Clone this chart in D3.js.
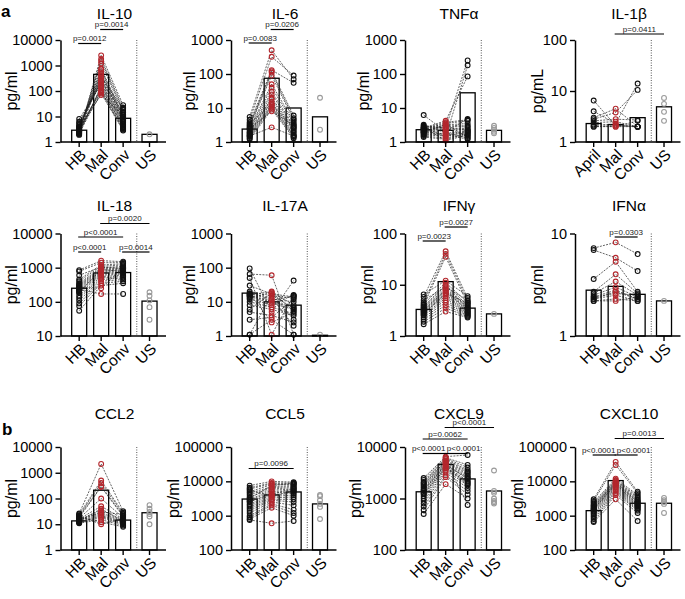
<!DOCTYPE html>
<html><head><meta charset="utf-8">
<script src="https://cdn.jsdelivr.net/npm/d3@7"></script>
<style>body{margin:0;background:#fff} text{font-family:"Liberation Sans",Arial,Helvetica,sans-serif}</style>
</head><body><svg id="c" width="685" height="599"></svg>
<script>
// ---------- categories ----------
const cats = ["HB","Mal","Conv","US"];
const catsIL1b = ["April","Mal","Conv","US"];

// ---------- tick values ----------
const ticks1to10000 = [1,10,100,1000,10000];
const ticks1to1000 = [1,10,100,1000];
const ticks1to100 = [1,10,100];
const ticks1to10 = [1,10];
const ticks10to10000 = [10,100,1000,10000];
const ticks100to100000 = [100,1000,10000,100000];
const ticks100to10000 = [100,1000,10000];

// ---------- IL-10 ----------
const il10_HB = [2.1,2.3,2.5,2.6,2.8,3.0,3.2,3.5,3.8,4.2,4.8,5.5,6.2,8.0,2.0,2.4,2.7,3.1,3.4,2.2,2.9,3.6,4.0,2.5,1.9];
const il10_Mal = [2500,1800,1500,1200,750,700,500,420,380,300,260,220,200,180,160,140,130,110,100,90,80,70,250,350,600];
const il10_Conv = [28,22,18,15,12,10,9,8,7.5,7,6.5,6,5.5,5,4.5,4,3.8,3.5,3.2,3,2.8,11,14,20,9.5];
const il10_US = [2.0];
const il10_bars = [2.9,450,8.5,2.0];
// ---------- IL-6 ----------
const il6_HB = [5.5,4.5,3.8,3.2,3.0,2.8,2.6,2.4,2.2,2.0,1.9,1.8,1.7,1.6,1.5,1.4,1.3,1.2,2.5,3.5,1.5];
const il6_Mal = [500,320,130,120,110,90,50,40,30,25,20,18,15,13,12,11,10,9,8,13,2.7];
const il6_Conv = [70,90,55,6,5,4.5,4,3.5,3,2.8,2.5,2.2,2,1.8,1.6,1.5,1.4,1.3,3.2,2.6,1.5];
const il6_US = [20,2.3];
const il6_bars = [2.4,75,10,5.5];
// ---------- TNFa ----------
const tnf_HB = [6.2,3.0,2.8,2.6,2.5,2.4,2.3,2.2,2.1,2.0,1.9,1.8,1.7,1.6,1.5,1.4,2.7,2.2,1.9,3.2,2.5,2.0];
const tnf_Mal = [2.0,2.6,1.4,4.2,3.8,3.5,3.2,3.0,2.8,2.4,2.2,1.8,1.6,1.5,1.3,1.2,1.1,2.5,3.3,1.9,2.7,1.7];
const tnf_Conv = [4.8,250,180,85,4.5,4.2,3.5,3.0,2.8,2.5,2.3,2.1,2.0,1.9,1.8,1.7,1.6,1.5,1.4,1.3,2.2,1.2];
const tnf_US = [3.0,2.6,2.3,2.0,1.8];
const tnf_bars = [2.3,2.2,28,2.2];
// ---------- IL-1b ----------
const il1b_HB = [6.5,4.0,3.0,2.8,2.6,2.4,2.2,2.1,2.0,2.0];
const il1b_Mal = [2.1,2.3,4.5,3.8,2.8,2.5,2.2,2.0,2.0,2.1];
const il1b_Conv = [2.0,14,2.0,10.5,2.7,2.0,2.0,2.0,2.6,2.0];
const il1b_US = [7.3,5.6,3.9,2.6];
const il1b_bars = [2.3,2.2,3.0,4.9];
// ---------- IL-18 ----------
const il18_HB = [850,780,450,400,350,320,300,280,260,240,220,200,180,150,130,110,90,75,55,270,230,190,600];
const il18_Mal = [1600,1400,1200,1100,1000,950,900,850,800,750,700,650,600,550,500,450,400,350,300,250,170,880,1050];
const il18_Conv = [1500,1400,1300,1200,1100,1000,950,900,850,800,750,700,650,600,550,500,450,400,350,1000,170,780,950];
const il18_US = [190,150,110,70,30];
const il18_bars = [250,700,720,105];
// ---------- IL-17A ----------
const il17_HB = [95,65,50,30,20,18,17,16,15,14,12,10,8,6,5,3,1.1,17,15,13,1.1];
const il17_Mal = [5,60,1.1,17,15,13,12,20,10,9,8,7,6,18,4,3.5,3,2.5,11,19,16];
const il17_Conv = [42,1.1,15,14,13,2,10,8,7,6,16,4.5,4,3,2.5,12,1.1,5,15,5.5,6.5];
const il17_US = [1.1];
const il17_bars = [18,10,8,1.05];
// ---------- IFNg ----------
const ifng_HB = [6.5,5.8,5.0,4.5,4.2,4.0,3.8,3.5,3.3,3.1,3.0,2.9,2.8,2.6,2.5,2.3,2.1,1.9,1.7,3.6,3.2,2.7];
const ifng_Mal = [12,45,9,40,11,35,10,8.5,8,7.5,7,6.5,6,5.5,5,4.5,4,3.5,3,9.5,7.8,6.8];
const ifng_Conv = [6.0,5.5,5.0,4.8,4.5,4.2,4.0,3.8,3.6,3.4,3.2,3.0,2.9,2.8,2.7,2.6,2.5,2.4,2.3,3.5,3.1,4.4];
const ifng_US = [2.7];
const ifng_bars = [3.3,11.5,3.5,2.7];
// ---------- IFNa ----------
const ifna_HB = [7.2,6.9,3.6,2.7,2.6,2.5,2.4,2.3,2.3,2.2,2.2,2.4];
const ifna_Mal = [8.2,5.8,5.3,4.0,3.4,3.0,2.8,2.7,2.5,2.3,2.2,2.6];
const ifna_Conv = [6.3,4.3,2.7,2.6,2.5,2.4,2.3,2.3,2.2,2.2,2.4,2.5];
const ifna_US = [2.2];
const ifna_bars = [2.8,3.05,2.55,2.2];
// ---------- CCL2 ----------
const ccl2_HB = [26,24,22,20,18,17,16,15,14,13,12.5,12,11.5,11,19,21,14.5,13.5];
const ccl2_Mal = [2200,500,400,300,280,100,50,35,28,25,22,20,18,15,12,10,30,40];
const ccl2_Conv = [32,28,25,22,20,18,16,15,14,13,12,11,10,9,8,17,24,12.5];
const ccl2_US = [55,40,30,25,20,10];
const ccl2_bars = [13.5,210,14.5,28];
// ---------- CCL5 ----------
const ccl5_HB = [7500,6500,6000,5000,4500,4000,3500,3000,2800,2500,2200,2000,1800,1600,1400,1200,1000,900,800,750,3200,2600,5500];
const ccl5_Mal = [10000,9000,8500,8000,7000,6500,6000,5500,5000,4500,4000,3600,3300,3000,2800,2500,2200,2000,1700,600,7500,4200,3800];
const ccl5_Conv = [9500,9000,8500,8000,7500,7000,6500,6000,5500,5000,4500,4000,3500,3000,2500,2000,1500,1200,1000,700,8800,6200,5200];
const ccl5_US = [4000,3700,2800,2200,1800,800];
const ccl5_bars = [3050,4000,4900,2200];
// ---------- CXCL9 ----------
const cxcl9_HB = [2500,2300,2100,2000,1800,1700,1600,1500,1400,1300,1200,1100,1000,900,800,700,600,500,1900,1450,1250];
const cxcl9_Mal = [6500,6200,6000,5800,5500,5200,5000,4800,4600,4400,4200,4000,3800,3500,3200,2800,2600,1900,5300,4500,3900];
const cxcl9_Conv = [7000,4500,4000,3600,3400,3200,3000,2800,2600,2400,2200,2000,1900,1800,1600,1400,1200,1000,750,2500,2100];
const cxcl9_US = [3500,1400,1300,1000,900,850,800];
const cxcl9_bars = [1350,4600,2400,1400];
// ---------- CXCL10 ----------
const cxcl10_HB = [3000,2700,2500,2300,2100,2000,1800,1700,1600,1500,1400,1300,1200,1100,1000,900,800,700,650,1900,1550];
const cxcl10_Mal = [37000,30000,12000,11000,10500,10000,9500,9000,8500,8000,7500,7000,6500,6000,5500,5000,4500,4000,3000,9200,8200];
const cxcl10_Conv = [5000,4500,4000,3600,3300,3000,2800,2600,2400,2200,2000,1900,1800,1700,1600,1500,1400,1200,700,2500,2100];
const cxcl10_US = [3300,2800,2500,2200,1200];
const cxcl10_bars = [1400,10500,2300,2300];

// ---------- p-value brackets: [fromCat, toCat, label] ----------
const il10_p = [[0,1,"p=0.0012"],[1,2,"p=0.0014"]];
const il6_p = [[0,1,"p=0.0083"],[1,2,"p=0.0206"]];
const il1b_p = [[1,3,"p=0.0411"]];
const il18_p = [[0,1,"p<0.0001"],[0,2,"p<0.0001"],[1,3,"p=0.0020"],[2,3,"p=0.0014"]];
const ifng_p = [[0,1,"p=0.0023"],[1,2,"p=0.0027"]];
const ifna_p = [[1,2,"p=0.0303"]];
const ccl5_p = [[0,2,"p=0.0096"]];
const cxcl9_p = [[0,1,"p<0.0001"],[1,2,"p<0.0001"],[0,2,"p=0.0062"],[1,3,"p<0.0001"]];
const cxcl10_p = [[0,1,"p<0.0001"],[1,2,"p<0.0001"],[1,3,"p=0.0013"]];

// bracket layout: line offset from plot top, and text x shift (px)
const il10_pdy = [3.5,-10.5], il6_pdy=[3,-10.5], il1b_pdy=[-6], il18_pdy=[18.5,3.5,-10,18.5],
      ifng_pdy=[7.5,-6.5], ifna_pdy=[3.5], ccl5_pdy=[21.5], cxcl9_pdy=[6.5,6.5,-8,-19.5], cxcl10_pdy=[8,8,-8.5];
const cxcl9_pdx = [-5.5,7.5,0,0], cxcl10_pdx = [-5.5,7.5,0];

const panels = [
 {t:"IL-10", yl:"pg/ml", c:cats, tk:ticks1to10000, HB:il10_HB, Mal:il10_Mal, Conv:il10_Conv, US:il10_US, bars:il10_bars, p:il10_p, pdy:il10_pdy},
 {t:"IL-6", yl:"pg/ml", c:cats, tk:ticks1to1000, HB:il6_HB, Mal:il6_Mal, Conv:il6_Conv, US:il6_US, bars:il6_bars, p:il6_p, pdy:il6_pdy},
 {t:"TNF\u03b1", yl:"pg/ml", c:cats, tk:ticks1to1000, HB:tnf_HB, Mal:tnf_Mal, Conv:tnf_Conv, US:tnf_US, bars:tnf_bars, p:[], pdy:[]},
 {t:"IL-1\u03b2", yl:"pg/mL", c:catsIL1b, tk:ticks1to100, HB:il1b_HB, Mal:il1b_Mal, Conv:il1b_Conv, US:il1b_US, bars:il1b_bars, p:il1b_p, pdy:il1b_pdy},
 {t:"IL-18", yl:"pg/ml", c:cats, tk:ticks10to10000, HB:il18_HB, Mal:il18_Mal, Conv:il18_Conv, US:il18_US, bars:il18_bars, p:il18_p, pdy:il18_pdy},
 {t:"IL-17A", yl:"pg/ml", c:cats, tk:ticks1to1000, HB:il17_HB, Mal:il17_Mal, Conv:il17_Conv, US:il17_US, bars:il17_bars, p:[], pdy:[]},
 {t:"IFN\u03b3", yl:"pg/ml", c:cats, tk:ticks1to100, HB:ifng_HB, Mal:ifng_Mal, Conv:ifng_Conv, US:ifng_US, bars:ifng_bars, p:ifng_p, pdy:ifng_pdy},
 {t:"IFN\u03b1", yl:"pg/ml", c:cats, tk:ticks1to10, HB:ifna_HB, Mal:ifna_Mal, Conv:ifna_Conv, US:ifna_US, bars:ifna_bars, p:ifna_p, pdy:ifna_pdy},
 {t:"CCL2", yl:"pg/ml", c:cats, tk:ticks1to10000, HB:ccl2_HB, Mal:ccl2_Mal, Conv:ccl2_Conv, US:ccl2_US, bars:ccl2_bars, p:[], pdy:[]},
 {t:"CCL5", yl:"pg/ml", c:cats, tk:ticks100to100000, HB:ccl5_HB, Mal:ccl5_Mal, Conv:ccl5_Conv, US:ccl5_US, bars:ccl5_bars, p:ccl5_p, pdy:ccl5_pdy},
 {t:"CXCL9", yl:"pg/ml", c:cats, tk:ticks100to10000, HB:cxcl9_HB, Mal:cxcl9_Mal, Conv:cxcl9_Conv, US:cxcl9_US, bars:cxcl9_bars, p:cxcl9_p, pdy:cxcl9_pdy, pdx:cxcl9_pdx},
 {t:"CXCL10", yl:"pg/ml", c:cats, tk:ticks100to100000, HB:cxcl10_HB, Mal:cxcl10_Mal, Conv:cxcl10_Conv, US:cxcl10_US, bars:cxcl10_bars, p:cxcl10_p, pdy:cxcl10_pdy, pdx:cxcl10_pdx}
];

// ---------- layout ----------
const svg = d3.select("#c");
const colX = [60.5, 231, 405, 575];
const rowBase = [142, 336, 550];
const rowTop = [40, 233.5, 447];
const titleY = [18.5, 210.5, 419];
const catPos = [0, 1, 2, 3.2];
const sepPos = 2.62;
const RED = "#b3272d", GRAY = "#9a9a9a";

svg.append("text").attr("x",1).attr("y",17).attr("font-size",17).attr("font-weight","bold").text("a");
svg.append("text").attr("x",2).attr("y",435).attr("font-size",17).attr("font-weight","bold").text("b");

panels.forEach((p, i) => {
  const col = i % 4, row = Math.floor(i / 4);
  const ax = colX[col], base = rowBase[row], top = rowTop[row];
  const x = d3.scaleLinear().domain([-0.85, 3.95]).range([ax, ax + 105.5]);
  const y = d3.scaleLog().domain([p.tk[0], p.tk[p.tk.length - 1]]).range([base, top]);
  const g = svg.append("g");

  // bars
  g.selectAll("rect.bar").data(p.bars).join("rect").attr("class","bar")
    .attr("x", (d, j) => x(catPos[j]) - 7.5).attr("width", 15)
    .attr("y", d => y(d)).attr("height", d => base - y(d))
    .attr("fill", "#fff").attr("stroke", "#000").attr("stroke-width", 1.3);

  // separator
  g.append("line").attr("x1", x(sepPos)).attr("x2", x(sepPos)).attr("y1", top).attr("y2", base)
    .attr("stroke", "#555").attr("stroke-width", 1).attr("stroke-dasharray", "1,1.5");

  // subject lines
  const n = Math.min(p.HB.length, p.Mal.length, p.Conv.length);
  const subj = d3.range(n).map(k => [p.HB[k], p.Mal[k], p.Conv[k]]);
  const line = d3.line().x((d, j) => x(catPos[j])).y(d => y(d));
  g.selectAll("path.subj").data(subj).join("path").attr("class","subj")
    .attr("d", line).attr("fill", "none").attr("stroke", "#222")
    .attr("stroke-width", 0.7).attr("stroke-dasharray", "2,1.2");

  // points
  const grp = [[p.HB, 0, "#111"], [p.Mal, 1, RED], [p.Conv, 2, "#111"], [p.US, 3, GRAY]];
  grp.forEach(([arr, j, col2]) => {
    g.selectAll(null).data(arr).join("circle")
      .attr("cx", x(catPos[j])).attr("cy", d => y(d)).attr("r", 2.4)
      .attr("fill", "none").attr("stroke", col2).attr("stroke-width", 1.1);
  });

  // y axis
  const yAx = g.append("g").attr("transform", `translate(${ax},0)`)
    .call(d3.axisLeft(y).tickValues(p.tk).tickFormat(d3.format("d")).tickSize(5).tickPadding(3).tickSizeOuter(0));
  yAx.select(".domain").attr("stroke-width", 1.5);
  yAx.selectAll(".tick line").attr("stroke-width", 1.4);
  yAx.selectAll(".tick text").attr("font-size", 14.5).attr("fill", "#000")
    .attr("font-family", '"Liberation Sans",Arial,sans-serif');
  let tw = 0;
  yAx.selectAll(".tick text").each(function () { tw = Math.max(tw, this.getComputedTextLength()); });

  // x axis
  g.append("line").attr("x1", ax).attr("x2", ax + 105.5).attr("y1", base).attr("y2", base)
    .attr("stroke", "#000").attr("stroke-width", 1.5);
  p.c.forEach((lab, j) => {
    const cx = x(catPos[j]);
    g.append("line").attr("x1", cx).attr("x2", cx).attr("y1", base).attr("y2", base + 5)
      .attr("stroke", "#000").attr("stroke-width", 1.4);
    g.append("text").attr("transform", `translate(${cx + 4},${base + 10}) rotate(-45)`)
      .attr("text-anchor", "end").attr("dy", "0.35em").attr("font-size", 15.5).text(lab);
  });

  // y label
  const off = Math.max(38, tw + 9);
  g.append("text").attr("transform", `translate(${ax - off},${(top + base) / 2}) rotate(-90)`)
    .attr("text-anchor", "middle").attr("dy", "0.35em").attr("font-size", 16).text(p.yl);

  // title
  g.append("text").attr("x", ax + 54).attr("y", titleY[row]).attr("text-anchor", "middle")
    .attr("font-size", 15.5).text(p.t);

  // p brackets
  p.p.forEach(([a, b, lab], k) => {
    const ly = top + p.pdy[k];
    const x1 = x(catPos[a]) - 1, x2 = x(catPos[b]);
    const dx = p.pdx ? p.pdx[k] : 0;
    g.append("line").attr("x1", x1).attr("x2", x2).attr("y1", ly).attr("y2", ly)
      .attr("stroke", "#000").attr("stroke-width", 1.2);
    g.append("text").attr("x", (x1 + x2) / 2 + dx).attr("y", ly - 2.5).attr("text-anchor", "middle")
      .attr("font-size", 8).attr("fill", "#222").text(lab);
  });
});
</script></body></html>
